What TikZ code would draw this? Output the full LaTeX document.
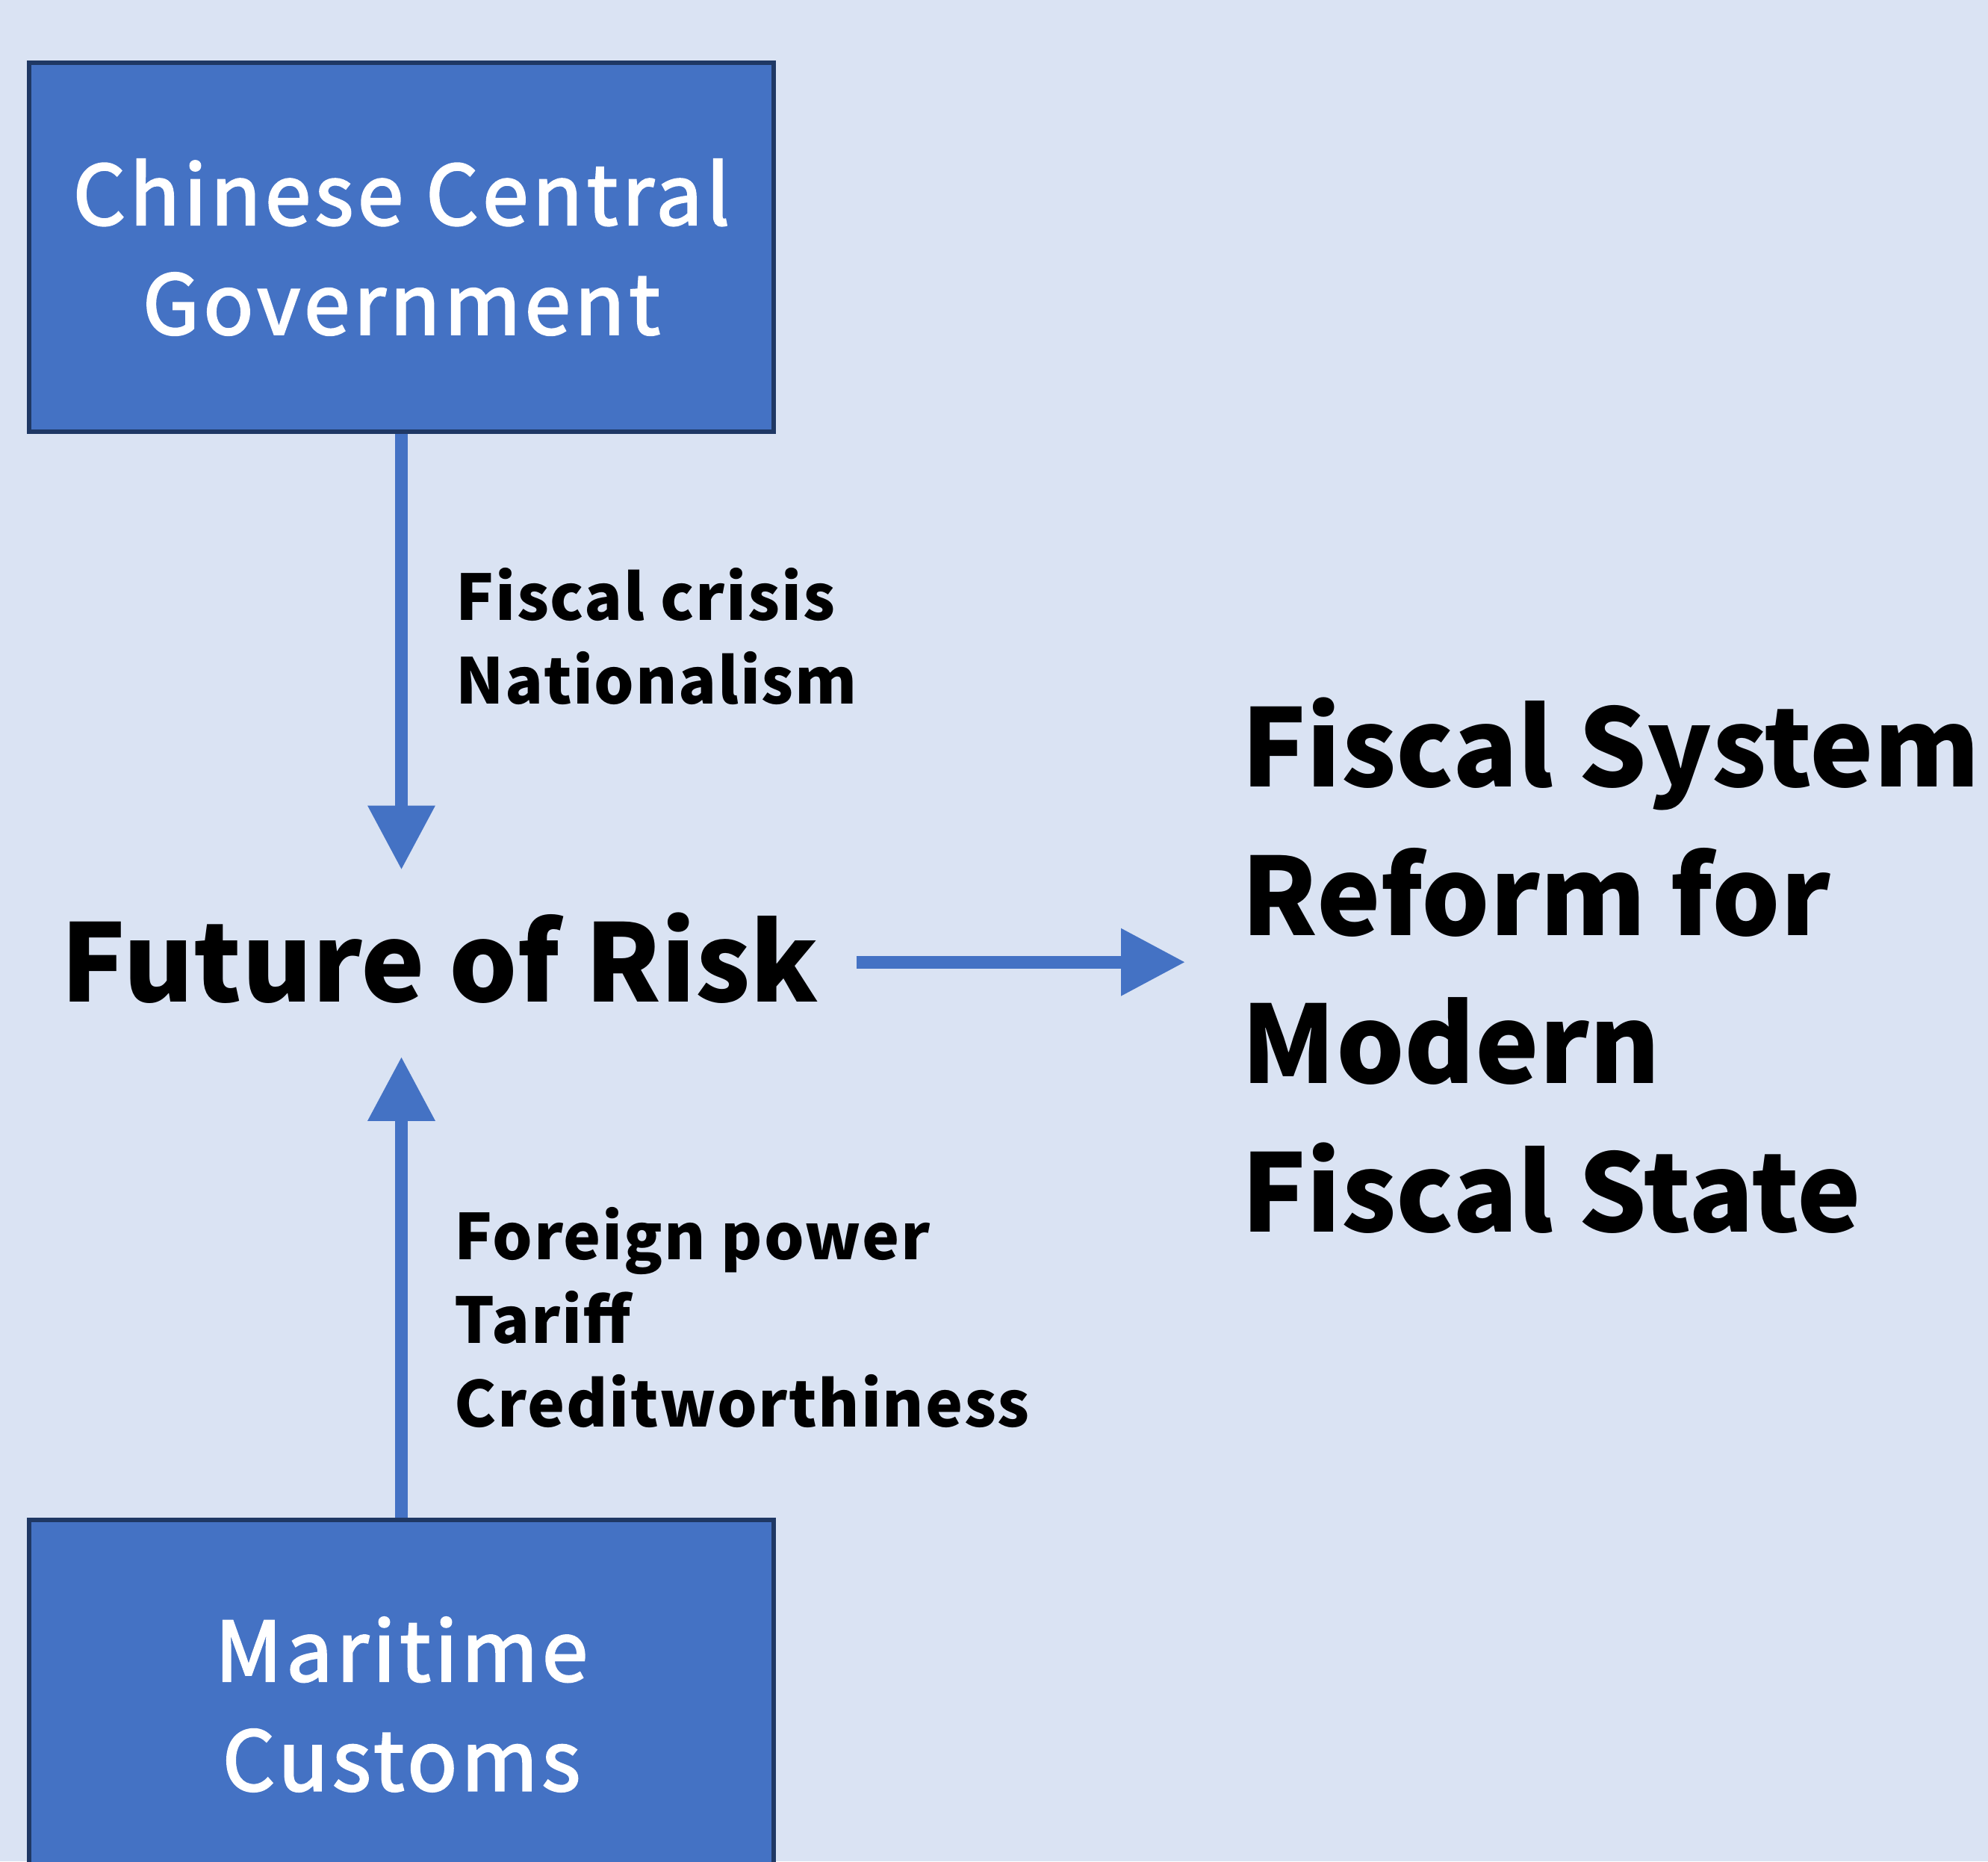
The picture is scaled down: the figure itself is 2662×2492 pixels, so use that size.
\documentclass[tikz,border=0pt]{standalone}
\usepackage{fontspec}
\setmainfont{Noto Sans CJK SC}
\newfontfamily\boxfont{Noto Sans CJK SC}[FakeBold=2.3,LetterSpace=5]
\newfontfamily\labfont{Noto Sans CJK SC}[LetterSpace=2]
\usetikzlibrary{arrows.meta}
\definecolor{bg}{HTML}{DAE3F3}
\definecolor{boxblue}{HTML}{4472C4}
\definecolor{boxedge}{HTML}{1F3864}
\tikzset{
  agentbox/.style={draw=boxedge, line width=1.5pt, fill=boxblue,
    minimum width=249.25pt, minimum height=123.5pt, inner sep=0pt,
    text=white, align=center, font=\boxfont\fontsize{27.6pt}{36.65pt}\selectfont},
  bigtext/.style={inner sep=0pt, anchor=base west, align=left,
    font=\bfseries\fontsize{36pt}{49.6pt}\selectfont},
  labeltext/.style={inner sep=0pt, anchor=base west, align=left,
    font=\labfont\bfseries\fontsize{21.1pt}{28pt}\selectfont},
  flow/.style={draw=boxblue, line width=4.2pt,
    -{Triangle[length=21.5pt, width=21.5pt]}}
}
\begin{document}
\begin{tikzpicture}[x=0.25pt, y=-0.25pt]
\fill[bg] (0,0) rectangle (2662,2492);
\useasboundingbox (0,0) rectangle (2662,2492);
\clip (0,0) rectangle (2662,2492);
\node[agentbox] (gov) at (537.5,331) {Chinese Central\\Government};
\node[agentbox] (customs) at (537.5,2282) {Maritime\\Customs};
\node[bigtext] (risk) at (81,1341) {Future of Risk};
\node[bigtext] (reform) at (1662,1649) {Fiscal System\\Reform for\\Modern\\Fiscal State};
\node[labeltext] (lab1) at (610,942) {Fiscal crisis\\Nationalism};
\node[labeltext] (lab2) at (608,1910) {Foreign power\\Tariff\\Creditworthiness};
\draw[flow, shorten >=14pt] (gov.south) -- (gov.south |- risk.north);
\draw[flow, shorten >=17.75pt] (customs.north) -- (customs.north |- risk.south);
\draw[flow, transform canvas={yshift=-1.5pt}, shorten <=12.5pt, shorten >=18.75pt] (risk.east) -- (risk.east -| reform.west);
\end{tikzpicture}
\end{document}
